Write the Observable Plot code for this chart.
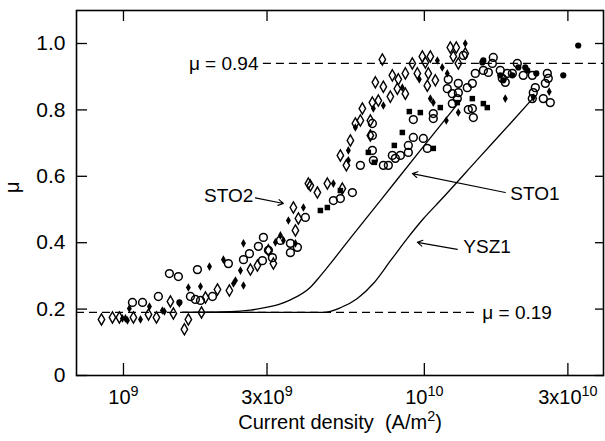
<!DOCTYPE html>
<html>
<head>
<meta charset="utf-8">
<script src="https://cdn.jsdelivr.net/npm/d3@7"></script>
<script src="https://cdn.jsdelivr.net/npm/@observablehq/plot@0.6"></script>
<style>
  html, body { margin: 0; padding: 0; background: white; }
</style>
</head>
<body>
<div id="chart"></div>
<script>
// Current density values are in units of 10^9 A/m^2
const UNIT = 1e9;

// Open diamonds
const openDiamondJ = [0.845, 0.919, 0.969, 1.079, 1.211, 1.287, 1.432, 1.465, 1.594, 1.643,
  1.817, 1.873, 2.053, 2.249, 2.642, 2.787, 3.032, 3.150, 3.671, 3.814,
  3.728, 4.117, 4.411, 4.761, 5.340, 5.899, 6.129, 6.616, 6.616, 6.718,
  6.874, 7.033, 7.252, 7.308, 7.709, 7.828, 8.195, 8.133, 8.648, 8.648,
  9.122, 9.478, 9.847, 10.47, 10.08, 10.31, 10.23, 10.88, 12.20, 12.77,
  12.48, 12.97, 13.68, 4.181, 5.678, 6.223, 5.259, 5.506];
const openDiamondMu = [0.169, 0.175, 0.175, 0.175, 0.184, 0.175, 0.223, 0.187, 0.139, 0.169,
  0.190, 0.235, 0.259, 0.256, 0.319, 0.331, 0.377, 0.337, 0.506, 0.473,
  0.437, 0.578, 0.551, 0.578, 0.563, 0.759, 0.768, 0.768, 0.723, 0.822,
  0.883, 0.828, 0.952, 0.870, 0.840, 0.904, 0.892, 0.864, 0.849, 0.910,
  0.940, 0.910, 0.961, 0.961, 0.943, 0.910, 0.873, 0.889, 0.988, 0.988,
  0.961, 0.940, 0.970, 0.572, 0.708, 0.804, 0.663, 0.633];

// Open circles
const openCircleJ = [1.071, 1.157, 1.306, 1.421, 1.522, 1.761, 1.669, 1.734, 1.803, 1.976,
  2.232, 2.505, 2.622, 2.896, 2.918, 2.808, 3.126, 3.588, 3.588, 3.324,
  3.785, 3.032, 4.024, 4.985, 5.259, 5.765, 6.129, 6.718, 6.718, 6.718,
  6.770, 7.308, 7.592, 7.828, 8.010, 8.323, 8.847, 8.847, 9.192, 9.923,
  10.23, 9.192, 10.71, 10.71, 12.01, 11.92, 12.39, 12.97, 12.97, 12.87,
  13.89, 14.77, 12.39, 14.00, 14.55, 14.44, 16.95, 16.83, 15.71, 16.32,
  17.88, 18.16, 18.58, 19.61, 18.86, 20.37, 21.32, 22.85, 25.63, 25.82,
  25.24, 23.38, 23.02, 22.85, 24.85, 26.22, 14.44, 13.48];
const openCircleMu = [0.220, 0.220, 0.238, 0.307, 0.298, 0.319, 0.238, 0.229, 0.226, 0.238,
  0.337, 0.349, 0.367, 0.346, 0.416, 0.389, 0.355, 0.398, 0.370, 0.407,
  0.386, 0.377, 0.476, 0.527, 0.533, 0.551, 0.633, 0.759, 0.723, 0.678,
  0.648, 0.633, 0.633, 0.663, 0.654, 0.663, 0.693, 0.672, 0.717, 0.714,
  0.684, 0.771, 0.789, 0.774, 0.892, 0.864, 0.849, 0.880, 0.852, 0.834,
  0.867, 0.910, 0.819, 0.801, 0.777, 0.880, 0.958, 0.940, 0.919, 0.913,
  0.919, 0.895, 0.883, 0.910, 0.910, 0.940, 0.904, 0.904, 0.910, 0.895,
  0.880, 0.867, 0.852, 0.834, 0.834, 0.822, 0.804, 0.964];

// Filled squares
const filledSquareJ = [4.761, 6.515, 6.821, 7.948, 8.451, 8.914, 9.698, 10.71, 11.30, 12.87,
  14.44, 15.71, 16.19, 5.259, 4.513];
const filledSquareMu = [0.506, 0.672, 0.642, 0.693, 0.732, 0.795, 0.792, 0.684, 0.807, 0.822,
  0.834, 0.819, 0.807, 0.557, 0.497];

// Small filled diamonds
const filledDiamondJ = [0.992, 1.015, 1.046, 1.139, 1.031, 1.220, 1.347, 1.368, 1.534, 1.643,
  1.803, 1.931, 2.149, 2.505, 2.321, 2.356, 2.448, 2.505, 3.324, 3.728,
  3.401, 3.199, 3.533, 3.963, 4.985, 5.590, 5.590, 5.899, 7.308, 8.451,
  9.622, 6.770, 10.47, 10.71, 11.83, 12.97, 11.05, 11.47, 11.92, 13.68,
  18.58, 23.02, 26.01];
const filledDiamondMu = [0.172, 0.172, 0.202, 0.169, 0.166, 0.208, 0.196, 0.193, 0.217, 0.265,
  0.268, 0.328, 0.349, 0.398, 0.277, 0.286, 0.316, 0.271, 0.422, 0.398,
  0.407, 0.401, 0.467, 0.506, 0.578, 0.678, 0.648, 0.747, 0.813, 0.867,
  0.892, 0.804, 0.834, 0.822, 0.768, 0.792, 0.949, 0.928, 0.910, 1.000,
  0.834, 0.837, 0.855];

// Filled circles
const filledCircleJ = [15.71, 15.59, 17.88, 18.30, 20.53, 21.65, 21.99, 28.96, 32.47, 1.534, 23.56, 19.61];
const filledCircleMu = [0.949, 0.943, 0.904, 0.889, 0.928, 0.928, 0.919, 0.904, 0.994, 0.220, 0.910, 0.904];

// Model curves
const sto1J = [1.570, 2.268, 2.642, 3.009, 3.324, 3.588, 4.181, 4.513, 4.872, 5.678, 7.142, 9.698, 13.17];
const sto1Mu = [0.190, 0.192, 0.197, 0.206, 0.216, 0.228, 0.266, 0.300, 0.337, 0.414, 0.527, 0.678, 0.828];
const ysz1J = [1.570, 4.618, 5.259, 5.990, 6.770, 7.709, 8.781, 9.923, 11.30, 15.35, 19.31, 23.38];
const ysz1Mu = [0.190, 0.190, 0.204, 0.232, 0.277, 0.345, 0.413, 0.472, 0.527, 0.660, 0.759, 0.843];

// Reference (dashed) levels
const refMu = [0.94, 0.19];
const refFromJ = [2.918, 0.698];
const refToJ = [39.4, 15.12];

// Annotations
const labelTexts = ["STO2", "μ = 0.94", "STO1", "YSZ1", "μ = 0.19"];
const labelJ = [2.70, 2.81, 19.31, 13.48, 15.59];
const labelMu = [0.542, 0.940, 0.548, 0.386, 0.190];
const labelAnchor = ["end", "end", "start", "start", "start"];

const arrowJ1 = [2.745, 18.58, 12.87];
const arrowMu1 = [0.535, 0.551, 0.380];
const arrowJ2 = [3.401, 9.122, 9.478];
const arrowMu2 = [0.518, 0.608, 0.401];

// Axes
const xTickVals = [1, 3, 10, 30];
const xTickLabels = ["10^9", "3x10^9", "10^10", "3x10^10"];
const yTicks = [0, 0.2, 0.4, 0.6, 0.8, 1.0];
const yTickLabels = ["0", "0.2", "0.4", "0.6", "0.8", "1.0"];
const xLabel = "Current density\u00a0 (A/m^2)";
const yLabel = "μ";
const xDomain = [0.698, 39.4];
const yDomain = [0, 1.0994];

const zip = (xs, ys) => xs.map((x, i) => ({x: x * UNIT, y: ys[i]}));
const labels = labelTexts.map((t, i) => ({t, x: labelJ[i] * UNIT, y: labelMu[i], a: labelAnchor[i]}));
const arrows = arrowJ1.map((j, i) => ({x1: j * UNIT, y1: arrowMu1[i], x2: arrowJ2[i] * UNIT, y2: arrowMu2[i]}));
const refs = refMu.map((m, i) => ({y: m, x1: refFromJ[i] * UNIT, x2: refToJ[i] * UNIT}));

const font = '"Liberation Sans", Arial, Helvetica, sans-serif';

const chart = Plot.plot({
  width: 605,
  height: 441,
  marginLeft: 76,
  marginRight: 2,
  marginTop: 10,
  marginBottom: 66,
  x: {type: "log", domain: xDomain.map(d => d * UNIT)},
  y: {domain: yDomain},
  style: {fontFamily: font, background: "white", color: "black", overflow: "visible"},
  marks: [
    Plot.frame({stroke: "black", strokeWidth: 1.6}),
    // tick marks (inward)
    Plot.axisX(xTickVals.map(d => d * UNIT), {anchor: "bottom", tickSize: 12, dy: -12, tickFormat: () => "", label: null, strokeWidth: 1.3}),
    Plot.axisX(xTickVals.map(d => d * UNIT), {anchor: "top", tickSize: 10, dy: 10, tickFormat: () => "", label: null, strokeWidth: 1.3}),
    Plot.axisY(yTicks, {anchor: "left", tickSize: 11, dx: 11, tickFormat: () => "", label: null, strokeWidth: 1.3}),
    Plot.axisY(yTicks, {anchor: "right", tickSize: 9, dx: -9, tickFormat: () => "", label: null, strokeWidth: 1.3}),
    // tick labels
    Plot.text(xTickVals, {x: d => d * UNIT, frameAnchor: "bottom", lineAnchor: "top", dy: 14, fontSize: 20, text: (d, i) => xTickLabels[i]}),
    Plot.text(yTicks, {y: d => d, frameAnchor: "left", textAnchor: "end", dx: -11, fontSize: 21, text: (d, i) => yTickLabels[i]}),
    Plot.text([xLabel], {frameAnchor: "bottom", dy: 53, fontSize: 20, text: d => d}),
    Plot.text([yLabel], {frameAnchor: "left", dx: -64, rotate: -90, fontSize: 20, text: d => d}),
    // reference dashed lines
    Plot.ruleY(refs, {y: "y", x1: "x1", x2: "x2", stroke: "black", strokeWidth: 1.1, strokeDasharray: "8,5"}),
    // model curves
    Plot.line(zip(sto1J, sto1Mu), {x: "x", y: "y", stroke: "black", strokeWidth: 1.3, curve: "monotone-x"}),
    Plot.line(zip(ysz1J, ysz1Mu), {x: "x", y: "y", stroke: "black", strokeWidth: 1.3, curve: "monotone-x"}),
    // data
    Plot.dot(zip(openDiamondJ, openDiamondMu), {x: "x", y: "y", symbol: "diamond", r: 3.4, fill: "none", stroke: "black", strokeWidth: 1.4}),
    Plot.dot(zip(openCircleJ, openCircleMu), {x: "x", y: "y", symbol: "circle", r: 3.9, fill: "none", stroke: "black", strokeWidth: 1.5}),
    Plot.dot(zip(filledSquareJ, filledSquareMu), {x: "x", y: "y", symbol: "square", r: 3.1, fill: "black", stroke: "none"}),
    Plot.dot(zip(filledDiamondJ, filledDiamondMu), {x: "x", y: "y", symbol: "diamond", r: 2.6, fill: "black", stroke: "none"}),
    Plot.dot(zip(filledCircleJ, filledCircleMu), {x: "x", y: "y", symbol: "circle", r: 3.1, fill: "black", stroke: "none"}),
    // annotations
    Plot.text(labels.filter(d => d.a === "end"), {x: "x", y: "y", text: "t", textAnchor: "end", fontSize: 19}),
    Plot.text(labels.filter(d => d.a === "start"), {x: "x", y: "y", text: "t", textAnchor: "start", fontSize: 19}),
    Plot.arrow(arrows, {x1: "x1", y1: "y1", x2: "x2", y2: "y2", stroke: "black", strokeWidth: 1.1, headLength: 8})
  ]
});

// Render "^n" as superscripts
const SVGNS = "http://www.w3.org/2000/svg";
chart.querySelectorAll("text").forEach(t => {
  const s = t.textContent;
  if (!s.includes("^")) return;
  const parts = s.split(/\^(\d+)/);
  while (t.firstChild) t.removeChild(t.firstChild);
  parts.forEach((p, i) => {
    if (!p) return;
    const ts = document.createElementNS(SVGNS, "tspan");
    ts.textContent = p;
    if (i % 2 === 1) {
      ts.setAttribute("font-size", "0.72em");
      ts.setAttribute("dy", "-0.55em");
    } else if (i > 0) {
      ts.setAttribute("dy", "0.396em");
    }
    t.appendChild(ts);
  });
});

document.getElementById("chart").appendChild(chart);
</script>
</body>
</html>
